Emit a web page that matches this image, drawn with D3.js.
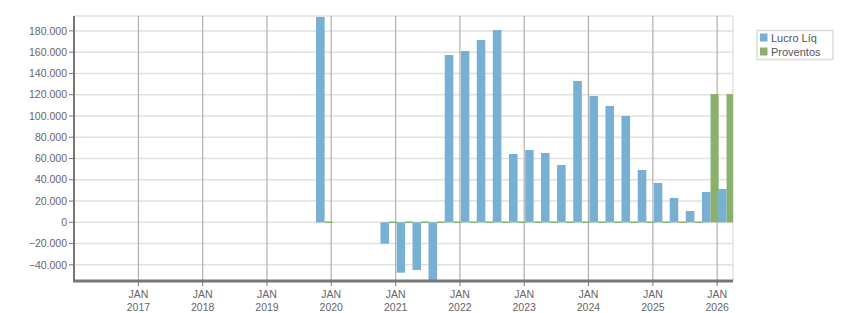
<!DOCTYPE html>
<html>
<head>
<meta charset="utf-8">
<script src="https://cdn.jsdelivr.net/npm/d3@7"></script>
<style>
  html, body { margin: 0; padding: 0; background: #fff; }
  svg { display: block; }
  text { font-family: "Liberation Sans", Arial, sans-serif; }
</style>
</head>
<body>
<svg id="chart" width="851" height="313"></svg>
<script>
// ---- data ----
const quarters = ["2019-10-01","2020-10-01","2021-01-01","2021-04-01","2021-07-01","2021-10-01",
  "2022-01-01","2022-04-01","2022-07-01","2022-10-01","2023-01-01","2023-04-01","2023-07-01",
  "2023-10-01","2024-01-01","2024-04-01","2024-07-01","2024-10-01","2025-01-01","2025-04-01",
  "2025-07-01","2025-10-01","2026-01-01"];
const lucroLiq = [193100, -20100, -47400, -44900, -58000, 157300,
  161100, 171400, 180800, 64200, 68000, 65200, 53900,
  132900, 118800, 109400, 100000, 49200, 37000, 22900,
  10600, 28500, 31300];
const proventos = [0, 0, 0, 0, 0, 0,
  0, 0, 0, 0, 0, 0, 0,
  0, 0, 0, 0, 0, 0, 0,
  0, 120600, 120600];
const yTicks = [-40000,-20000,0,20000,40000,60000,80000,100000,120000,140000,160000,180000];
const xTickYears = [2017,2018,2019,2020,2021,2022,2023,2024,2025,2026];
const seriesNames = ["Lucro Líq", "Proventos"];
const seriesColors = ["#78b0d3", "#89b16c"];

// ---- layout ----
const svg = d3.select("#chart");
const L = 74, R = 733, T = 16, B = 281;
const parse = d3.utcParse("%Y-%m-%d");
const x = d3.scaleUtc().domain([Date.UTC(2016,0,1), Date.UTC(2026,3,1)]).range([L, R]);
const y = d3.scaleLinear().domain([-55200, 194000]).range([B, T]);
const fmt = v => d3.format(",")(v).replace(/,/g, ".");

svg.append("defs").append("clipPath").attr("id","plot")
  .append("rect").attr("x", L).attr("y", T).attr("width", R - L).attr("height", B - T);

// horizontal grid
const g = svg.append("g");
g.selectAll("line.h").data(yTicks).join("line")
  .attr("x1", L).attr("x2", R).attr("y1", d => y(d)).attr("y2", d => y(d))
  .attr("stroke", "#e1e1e1").attr("stroke-width", 1.5);
// top & right border
g.append("line").attr("x1", L).attr("x2", R).attr("y1", T).attr("y2", T)
  .attr("stroke", "#e1e1e1").attr("stroke-width", 1.5);
g.append("line").attr("x1", R).attr("x2", R).attr("y1", T).attr("y2", B)
  .attr("stroke", "#e1e1e1").attr("stroke-width", 1.5);
// vertical grid at JAN
const xDates = xTickYears.map(yr => new Date(Date.UTC(yr,0,1)));
g.selectAll("line.v").data(xDates).join("line")
  .attr("x1", d => x(d)).attr("x2", d => x(d)).attr("y1", T).attr("y2", B)
  .attr("stroke", "#b0b0b0").attr("stroke-width", 1.2);

// bars
const bars = svg.append("g").attr("clip-path", "url(#plot)");
const rows = quarters.map((q, i) => {
  const d0 = parse(q);
  const d1 = d3.utcMonth.offset(d0, 3);
  return { d0, d1, lucro: lucroLiq[i], prov: proventos[i] };
});
function barRect(sel, xs, ws, val, color) {
  sel.append("rect")
    .attr("x", xs).attr("width", ws)
    .attr("y", val >= 0 ? y(val) : y(0))
    .attr("height", Math.max(Math.abs(y(val) - y(0)), 1.5))
    .attr("fill", color);
}
rows.forEach(r => {
  const x0 = x(r.d0), x1 = x(r.d1);
  const half = (x1 - x0) / 2;
  const bx = x0 + 1, bw = half + 0.5;
  if (r.lucro != null) barRect(bars, bx, bw, r.lucro, seriesColors[0]);
  if (r.prov != null) {
    if (r.prov === 0) {
      bars.append("rect").attr("x", bx + bw).attr("width", half)
        .attr("y", y(0) - 0.75).attr("height", 1.5).attr("fill", seriesColors[1]);
    } else {
      barRect(bars, bx + bw, half, r.prov, seriesColors[1]);
    }
  }
});

// axes
const axisColor = "#777";
const textColor = "#666";
// y axis
const ya = svg.append("g");
ya.append("line").attr("x1", L).attr("x2", L).attr("y1", T).attr("y2", B + 1)
  .attr("stroke", axisColor).attr("stroke-width", 2);
ya.selectAll("line.t").data(yTicks).join("line")
  .attr("x1", L - 5).attr("x2", L).attr("y1", d => y(d)).attr("y2", d => y(d))
  .attr("stroke", axisColor).attr("stroke-width", 1);
ya.selectAll("text").data(yTicks).join("text")
  .attr("x", L - 7).attr("y", d => y(d)).attr("dy", "0.35em")
  .attr("text-anchor", "end").attr("font-size", "10.5px").attr("fill", textColor)
  .text(d => fmt(d));
// x axis
const xa = svg.append("g");
xa.append("line").attr("x1", L - 1).attr("x2", R).attr("y1", B).attr("y2", B)
  .attr("stroke", axisColor).attr("stroke-width", 3);
xa.selectAll("line.t").data(xDates).join("line")
  .attr("x1", d => x(d)).attr("x2", d => x(d)).attr("y1", B).attr("y2", B + 5)
  .attr("stroke", axisColor).attr("stroke-width", 1);
const xl = xa.selectAll("g.lbl").data(xDates).join("g")
  .attr("transform", d => `translate(${x(d)},0)`);
xl.append("text").attr("y", 298).attr("text-anchor", "middle")
  .attr("font-size", "10.5px").attr("fill", textColor).text("JAN");
xl.append("text").attr("y", 311).attr("text-anchor", "middle")
  .attr("font-size", "10.5px").attr("fill", textColor).text(d => d.getUTCFullYear());

// legend
const lg = svg.append("g");
lg.append("rect").attr("x", 757).attr("y", 30.5).attr("width", 76).attr("height", 29)
  .attr("fill", "#fff").attr("stroke", "#dcdcdc").attr("stroke-width", 1.5);
seriesNames.forEach((n, i) => {
  lg.append("rect").attr("x", 760).attr("y", 33.5 + i * 14).attr("width", 7.5).attr("height", 8)
    .attr("fill", seriesColors[i]);
  lg.append("text").attr("x", 771).attr("y", 41.5 + i * 14)
    .attr("font-size", "11px").attr("fill", "#555").text(n);
});
</script>
</body>
</html>
